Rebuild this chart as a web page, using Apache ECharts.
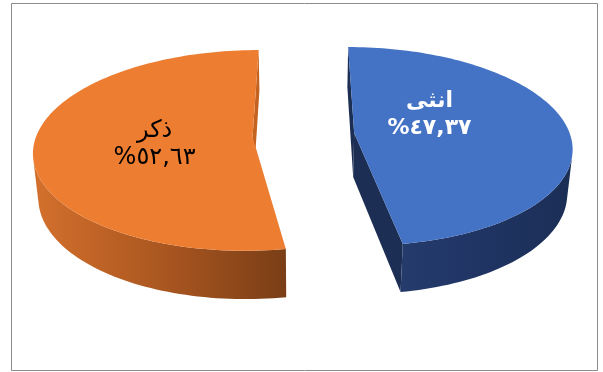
<!DOCTYPE html>
<html><head><meta charset="utf-8">
<script src="https://cdn.jsdelivr.net/npm/echarts@6/dist/echarts.min.js"></script>
<style>html,body{margin:0;padding:0;background:#fff}#c{width:603px;height:372px}</style>
</head><body><div id="c"></div>
<script>
// ---- data ----
const categories = ['انثى', 'ذكر'];
const values = [47.37, 52.63];

// ---- styles ----
const topColors  = ['#4472C4', '#ED7D31'];
const cutColors  = ['#1C2E54', '#C4621F'];
const wallStops  = [
  [['#253B6C', 0], ['#1F3463', 0.5], ['#1B2E55', 1]],
  [['#D4702D', 0], ['#AB5720', 0.5], ['#7A3E16', 1]]
];
const labelColors = ['#FFFFFF', '#000000'];
const labelFonts  = ['bold 22px "DejaVu Sans"', '24px "DejaVu Sans"'];
const labelShift  = [[-10, -15], [-11, 4]];
const P = {cx: 303.5, cy: 134.9, rx: 216, ry: 98, k: 0.135, m: 0.02, depth: 45, explode: 0.236, labelR: 0.4};

function arabicPct(v) {
  const s = v.toFixed(2).replace('.', ',');
  return '%' + s.replace(/[0-9]/g, d => String.fromCharCode(0x0660 + Number(d)));
}
function proj(x, z, t) {
  const den = 1 - P.k * z + P.m * t;
  return [P.cx + P.rx * x / den, P.cy + (P.ry * z + P.depth * t) / den];
}
function area(pts) {
  let s = 0;
  for (let i = 0; i < pts.length; i++) {
    const a = pts[i], b = pts[(i + 1) % pts.length];
    s += a[0] * b[1] - b[0] * a[1];
  }
  return s / 2;
}
const total = values.reduce((a, b) => a + b, 0);

function renderItem(params, api) {
  const i = params.dataIndex;
  let cum = 0;
  for (let j = 0; j < i; j++) cum += values[j];
  const v = api.value(0);
  const a0 = cum / total * Math.PI * 2;
  const a1 = (cum + v) / total * Math.PI * 2;
  const mid = (a0 + a1) / 2;
  const ox = P.explode * Math.sin(mid), oz = -P.explode * Math.cos(mid);
  const pt = (th, r, t) => proj(ox + r * Math.sin(th), oz - r * Math.cos(th), t);
  const children = [];
  // radial cut faces
  [[a0, true], [a1, false]].forEach(([th, isStart]) => {
    const q = [pt(th, 0, 0), pt(th, 1, 0), pt(th, 1, 1), pt(th, 0, 1)];
    const s = area(q);
    if ((isStart && s < 0) || (!isStart && s > 0)) {
      children.push({type: 'polygon', shape: {points: q}, style: {fill: cutColors[i]}});
    }
  });
  // outer wall
  const N = Math.max(4, Math.ceil((a1 - a0) / (Math.PI * 2) * 240));
  const ths = [];
  for (let j = 0; j <= N; j++) ths.push(a0 + (a1 - a0) * j / N);
  let js = -1, je = -1;
  for (let j = 0; j < N; j++) {
    const q = [pt(ths[j], 1, 0), pt(ths[j + 1], 1, 0), pt(ths[j + 1], 1, 1), pt(ths[j], 1, 1)];
    if (area(q) < 0) { if (js < 0) js = j; je = j; }
  }
  if (js >= 0) {
    const poly = [];
    for (let j = js; j <= je + 1; j++) poly.push(pt(ths[j], 1, 0));
    for (let j = je + 1; j >= js; j--) poly.push(pt(ths[j], 1, 1));
    children.push({
      type: 'polygon', shape: {points: poly},
      style: {fill: {type: 'linear', x: 0, y: 0, x2: 1, y2: 0,
        colorStops: wallStops[i].map(s => ({offset: s[1], color: s[0]}))}}
    });
  }
  // top face
  const topPts = [pt(a0, 0, 0)];
  for (let j = 0; j <= N; j++) topPts.push(pt(ths[j], 1, 0));
  children.push({type: 'polygon', shape: {points: topPts}, style: {fill: topColors[i]}});
  // label
  const lp = pt(mid, P.labelR, 0);
  children.push({
    type: 'text', x: lp[0] + labelShift[i][0], y: lp[1] + labelShift[i][1],
    style: {text: categories[i] + '\n' + arabicPct(v), fill: labelColors[i],
      font: labelFonts[i], align: 'center', verticalAlign: 'middle', lineHeight: 27}
  });
  return {type: 'group', children};
}

const chart = echarts.init(document.getElementById('c'), null, {renderer: 'canvas'});
chart.setOption({
  animation: false,
  backgroundColor: '#fff',
  graphic: [{type: 'rect', shape: {x: 11.5, y: 3.5, width: 586, height: 367},
    style: {fill: 'none', stroke: '#8c8c8c', lineWidth: 1}, silent: true}],
  series: [{
    type: 'custom', coordinateSystem: 'none', renderItem,
    data: values.map(v => [v])
  }]
});
</script>
</body></html>
